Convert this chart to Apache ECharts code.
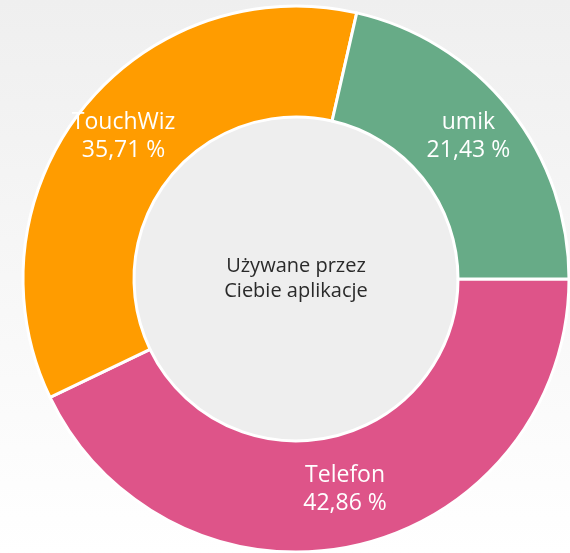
<!DOCTYPE html>
<html>
<head>
<meta charset="utf-8">
<script src="https://cdn.jsdelivr.net/npm/echarts@6/dist/echarts.min.js"></script>
<style>
  html, body { margin: 0; padding: 0; }
  #chart { width: 570px; height: 553px; }
</style>
</head>
<body>
<div id="chart"></div>
<script>
// app usage counts (share = count / total)
const apps = ["Telefon", "TouchWiz", "umik"];
const counts = [6, 5, 3];
const colors = ["#de5489", "#ff9c00", "#67ab87"];
const centerText = "Używane przez\nCiebie aplikacje";

const chart = echarts.init(document.getElementById("chart"));

chart.setOption({
  backgroundColor: {
    type: "linear", x: 0, y: 0, x2: 0, y2: 1,
    colorStops: [
      { offset: 0, color: "#efefef" },
      { offset: 1, color: "#ffffff" }
    ]
  },
  animation: false,
  series: [
    {
      // inner disc with the caption
      type: "pie",
      silent: true,
      center: [296, 279],
      radius: [0, 163],
      data: [{ value: 1, name: centerText }],
      itemStyle: { color: "#eeeeee" },
      label: {
        show: true,
        position: "center",
        fontFamily: "Open Sans",
        fontSize: 20,
        lineHeight: 25,
        color: "#2a2a2a",
        formatter: "{b}"
      },
      labelLine: { show: false }
    },
    {
      type: "pie",
      center: [296, 279],
      radius: [162, 273],
      startAngle: 0,
      clockwise: true,
      data: apps.map((name, i) => ({
        name: name,
        value: counts[i],
        itemStyle: { color: colors[i] }
      })),
      itemStyle: { borderColor: "#ffffff", borderWidth: 3 },
      label: {
        show: true,
        position: "inside",
        fontFamily: "Open Sans",
        fontSize: 23,
        lineHeight: 28,
        offset: [0, -5],
        color: "#ffffff",
        formatter: p => p.name + "\n" + p.percent.toFixed(2).replace(".", ",") + " %"
      },
      labelLine: { show: false }
    }
  ]
});
</script>
</body>
</html>
